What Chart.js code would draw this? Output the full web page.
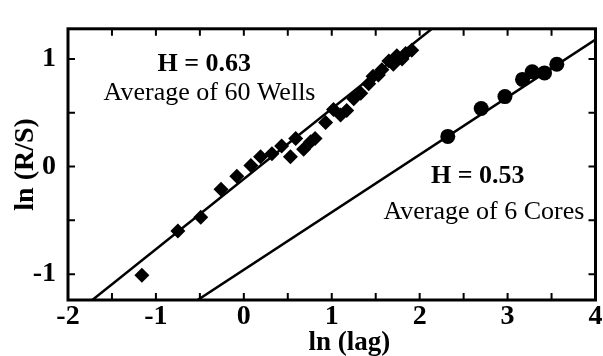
<!DOCTYPE html>
<html>
<head>
<meta charset="utf-8">
<script src="https://cdn.jsdelivr.net/npm/chart.js@4"></script>
<style>
  html, body { margin: 0; padding: 0; background: #fff; }
  #wrap { width: 603px; height: 356px; position: relative; }
</style>
</head>
<body>
<div id="wrap"><canvas id="chart"></canvas></div>
<script>
// --- data ---
var wellsX = [-1.16, -0.75, -0.49, -0.26, -0.08, 0.08, 0.19, 0.32, 0.43, 0.53, 0.59, 0.68, 0.76, 0.81,
  0.93, 1.02, 1.10, 1.17, 1.25, 1.33, 1.42, 1.47, 1.53, 1.57, 1.65, 1.70, 1.74, 1.80, 1.84, 1.91];
var wellsY = [-1.01, -0.60, -0.47, -0.21, -0.09, 0.01, 0.09, 0.12, 0.19, 0.09, 0.26, 0.16, 0.23, 0.26,
  0.41, 0.53, 0.48, 0.52, 0.63, 0.68, 0.77, 0.84, 0.85, 0.90, 0.98, 0.95, 1.03, 1.00, 1.05, 1.08];
var coresX = [2.32, 2.70, 2.97, 3.17, 3.28, 3.42, 3.56];
var coresY = [0.28, 0.54, 0.65, 0.81, 0.88, 0.87, 0.95];

// fitted lines (end points, clipped by the plot box)
var wellsFitX = [-1.80, 2.20];
var wellsFitY = [-1.29, 1.32];
var coresFitX = [-0.60, 4.00];
var coresFitY = [-1.28, 1.18];

var xTicks = [-2, -1, 0, 1, 2, 3, 4];
var yTicks = [-1, 0, 1];
var xMarks = [-2, -1.5, -1, -0.5, 0, 0.5, 1, 1.5, 2, 2.5, 3, 3.5, 4];
var yMarks = [-1, -0.5, 0, 0.5, 1];

var notes = [
  { x: -0.45, y: 0.95, text: "H = 0.63", bold: true },
  { x: -0.39, y: 0.68, text: "Average of 60 Wells", bold: false },
  { x: 2.66, y: -0.09, text: "H = 0.53", bold: true },
  { x: 2.73, y: -0.42, text: "Average of 6 Cores", bold: false }
];
var xTitle = { x: 1.2, text: "ln (lag)" };

var SERIF = "'Liberation Serif', 'Times New Roman', serif";

function pairs(xs, ys) {
  return xs.map(function (x, i) { return { x: x, y: ys[i] }; });
}

// box, inward tick marks, text notes and x title
var framePlugin = {
  id: "frame",
  afterDatasetsDraw: function (chart) {
    var ctx = chart.ctx;
    var a = chart.chartArea;
    var xs = chart.scales.x, ys = chart.scales.y;
    var len = 7;
    ctx.save();
    ctx.strokeStyle = "#000";
    ctx.lineWidth = 2;
    ctx.beginPath();
    xMarks.forEach(function (v) {
      var px = xs.getPixelForValue(v);
      ctx.moveTo(px, a.bottom); ctx.lineTo(px, a.bottom - len);
      ctx.moveTo(px, a.top); ctx.lineTo(px, a.top + len);
    });
    yMarks.forEach(function (v) {
      var py = ys.getPixelForValue(v);
      ctx.moveTo(a.left, py); ctx.lineTo(a.left + len, py);
      ctx.moveTo(a.right, py); ctx.lineTo(a.right - len, py);
    });
    ctx.stroke();
    ctx.lineWidth = 3;
    ctx.strokeRect(a.left, a.top, a.right - a.left, a.bottom - a.top);

    ctx.fillStyle = "#000";
    ctx.textAlign = "center";
    ctx.textBaseline = "middle";
    notes.forEach(function (n) {
      ctx.font = (n.bold ? "bold " : "") + "26px " + SERIF;
      ctx.fillText(n.text, xs.getPixelForValue(n.x), ys.getPixelForValue(n.y));
    });

    // axis title sits right of centre in the original
    ctx.font = "bold 27px " + SERIF;
    ctx.textBaseline = "alphabetic";
    ctx.fillText(xTitle.text, xs.getPixelForValue(xTitle.x), chart.height - 6);
    ctx.restore();
  }
};

new Chart(document.getElementById("chart"), {
  type: "scatter",
  data: {
    datasets: [
      {
        label: "Wells",
        data: pairs(wellsX, wellsY),
        pointStyle: "rectRot",
        pointRadius: 7.5,
        backgroundColor: "#000",
        borderColor: "#000",
        borderWidth: 0
      },
      {
        label: "Cores",
        data: pairs(coresX, coresY),
        pointStyle: "circle",
        pointRadius: 7.5,
        backgroundColor: "#000",
        borderColor: "#000",
        borderWidth: 0
      },
      {
        label: "Wells fit",
        data: pairs(wellsFitX, wellsFitY),
        showLine: true,
        pointRadius: 0,
        borderColor: "#000",
        borderWidth: 2.5
      },
      {
        label: "Cores fit",
        data: pairs(coresFitX, coresFitY),
        showLine: true,
        pointRadius: 0,
        borderColor: "#000",
        borderWidth: 2.5
      }
    ]
  },
  options: {
    responsive: true,
    maintainAspectRatio: false,
    animation: false,
    layout: { padding: { top: 15, right: 5, left: 0, bottom: 0 } },
    plugins: {
      legend: { display: false },
      tooltip: { enabled: false }
    },
    scales: {
      x: {
        type: "linear",
        min: -2,
        max: 4,
        afterBuildTicks: function (s) { s.ticks = xTicks.map(function (v) { return { value: v }; }); },
        afterFit: function (s) { s.height = 56; },
        grid: { display: false, drawTicks: false },
        border: { display: false },
        ticks: {
          color: "#000",
          padding: 0,
          font: { family: SERIF, size: 28, weight: "bold" },
          callback: function (v) { return String(v); }
        },
        title: { display: false }
      },
      y: {
        type: "linear",
        min: -1.24,
        max: 1.28,
        afterBuildTicks: function (s) { s.ticks = yTicks.map(function (v) { return { value: v }; }); },
        afterFit: function (s) { s.width = 68; },
        grid: { display: false, drawTicks: false },
        border: { display: false },
        ticks: {
          color: "#000",
          padding: 12,
          font: { family: SERIF, size: 28, weight: "bold" },
          callback: function (v) { return String(v); }
        },
        title: {
          display: true,
          text: "ln (R/S)",
          color: "#000",
          padding: { top: 9, bottom: 0 },
          font: { family: SERIF, size: 28, weight: "bold", lineHeight: 1.2 }
        }
      }
    }
  },
  plugins: [framePlugin]
});
</script>
</body>
</html>
